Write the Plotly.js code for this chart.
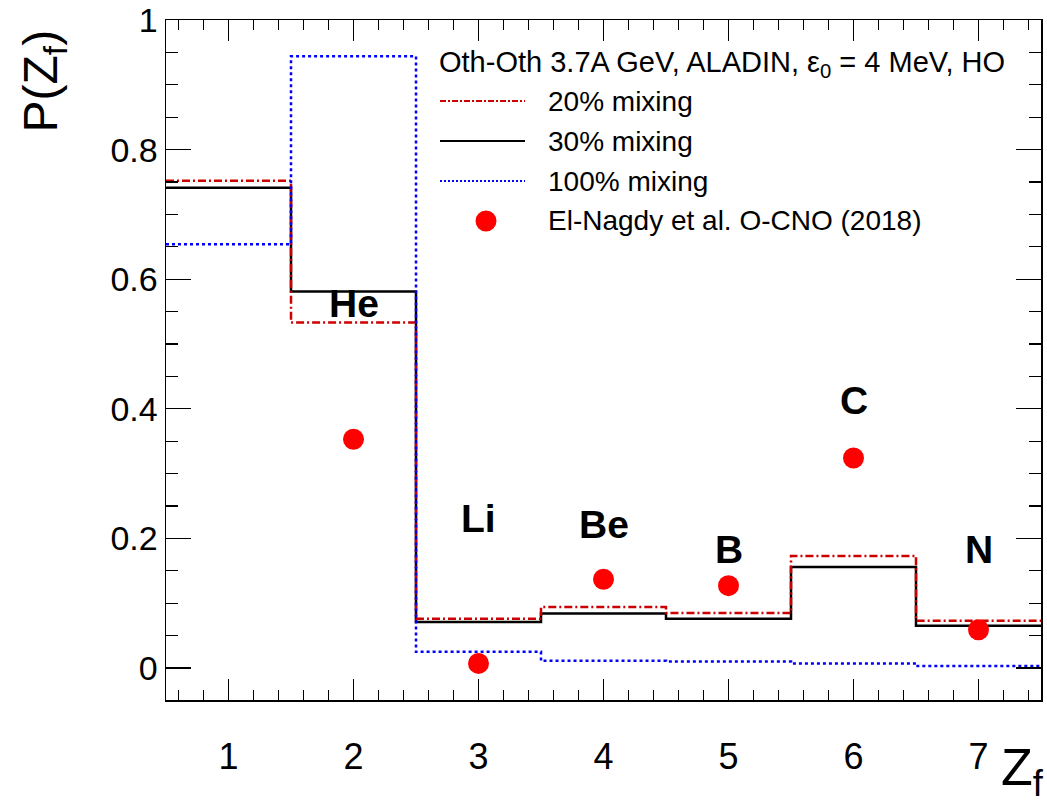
<!DOCTYPE html>
<html>
<head>
<meta charset="utf-8">
<script src="https://cdn.plot.ly/plotly-3.0.1.min.js"></script>
<style>html,body{margin:0;padding:0;background:#fff;}#chart{width:1047px;height:803px;}</style>
</head>
<body>
<div id="chart"></div>
<script>
// ---- data ----
const Z = [1, 2, 3, 4, 5, 6, 7];
const mix20 = [0.752, 0.533, 0.076, 0.094, 0.085, 0.173, 0.073];
const mix30 = [0.741, 0.581, 0.071, 0.084, 0.076, 0.156, 0.065];
const mix100 = [0.654, 0.944, 0.025, 0.011, 0.010, 0.007, 0.003];
const expZ = [2, 3, 4, 5, 6, 7];
const expP = [0.353, 0.007, 0.137, 0.127, 0.324, 0.059];
const elements = ['He', 'Li', 'Be', 'B', 'C', 'N'];
const seriesNames = ['20% mixing', '30% mixing', '100% mixing', 'El-Nagdy et al. O-CNO (2018)'];
const headerText = 'Oth-Oth 3.7A GeV, ALADIN, \u03b5<sub>0</sub> = 4 MeV, HO';

// label placement (layout, not data)
const elementLabelY = [0.563, 0.230, 0.221, 0.183, 0.413, 0.183];

const FONT = 'Liberation Sans, Arial, Helvetica, sans-serif';

function histEdges(centers) {
  const e = centers.map(c => c - 0.5);
  e.push(centers[centers.length - 1] + 0.5);
  return e;
}
function histVals(v) { return v.concat([v[v.length - 1]]); }

const edges = histEdges(Z);

const styles = {
  red: { color: '#cc0000', width: 2.5, dash: '8px,3px,2px,3px' },
  black: { color: '#000000', width: 2.5, dash: 'solid' },
  blue: { color: '#0000ff', width: 2.5, dash: '3px,3px' }
};

const traces = [
  { x: edges, y: histVals(mix30), mode: 'lines', line: Object.assign({ shape: 'hv' }, styles.black), name: seriesNames[1], showlegend: false, hoverinfo: 'skip' },
  { x: edges, y: histVals(mix20), mode: 'lines', line: Object.assign({ shape: 'hv' }, styles.red), name: seriesNames[0], showlegend: false, hoverinfo: 'skip' },
  { x: edges, y: histVals(mix100), mode: 'lines', line: Object.assign({ shape: 'hv' }, styles.blue), name: seriesNames[2], showlegend: false, hoverinfo: 'skip' },
  { x: expZ, y: expP, mode: 'markers', marker: { color: '#ff0000', size: 21, symbol: 'circle' }, name: seriesNames[3], showlegend: false }
];

// ---- custom legend (paper coords) ----
const plotL = 166, plotR = 1041, plotT = 20, plotB = 700;
const px2x = p => (p - plotL) / (plotR - plotL);
const px2y = p => (plotB - p) / (plotB - plotT);

const legendRowsY = [101, 141, 181, 221];
const legLineX0 = 440, legLineX1 = 525, legTextX = 546, legMarkX = 486;
const legStyles = [styles.red, styles.black, styles.blue];

const shapes = [];
for (let i = 0; i < 3; i++) {
  const s = legStyles[i];
  shapes.push({ type: 'line', xref: 'paper', yref: 'paper',
    x0: px2x(legLineX0), x1: px2x(legLineX1), y0: px2y(legendRowsY[i]), y1: px2y(legendRowsY[i]),
    line: { color: s.color, width: 2, dash: i === 0 ? '6px,2px,2px,2px' : (i === 2 ? '2px,2px' : 'solid') } });
}
shapes.push({ type: 'circle', xref: 'paper', yref: 'paper', xsizemode: 'pixel', ysizemode: 'pixel',
  xanchor: px2x(legMarkX), yanchor: px2y(legendRowsY[3]), x0: -10.5, x1: 10.5, y0: -10.5, y1: 10.5,
  fillcolor: '#ff0000', line: { color: '#ff0000', width: 0 } });

const annotations = [
  { xref: 'paper', yref: 'paper', x: px2x(437), y: px2y(64), xanchor: 'left', yanchor: 'middle',
    text: headerText, showarrow: false, font: { family: FONT, size: 29, color: '#000' } }
];
for (let i = 0; i < 4; i++) {
  annotations.push({ xref: 'paper', yref: 'paper', x: px2x(legTextX), y: px2y(legendRowsY[i]), xanchor: 'left', yanchor: 'middle',
    text: seriesNames[i], showarrow: false, font: { family: FONT, size: 28, color: '#000' } });
}
// element labels in data coordinates
for (let i = 0; i < elements.length; i++) {
  annotations.push({ xref: 'x', yref: 'y', x: expZ[i], y: elementLabelY[i], xanchor: 'center', yanchor: 'middle',
    text: '<b>' + elements[i] + '</b>', showarrow: false, font: { family: FONT, size: 39, color: '#000' } });
}
// axis titles at the axis ends (ROOT style)
annotations.push({ xref: 'paper', yref: 'paper', x: px2x(44), y: px2y(28), xanchor: 'center', yanchor: 'top',
  textangle: -90, text: 'P(Z<sub>f</sub>)', showarrow: false, font: { family: FONT, size: 48, color: '#000' } });
annotations.push({ xref: 'paper', yref: 'paper', x: px2x(1046), y: px2y(806), xanchor: 'right', yanchor: 'bottom',
  text: 'Z<sub>f</sub>', showarrow: false, font: { family: FONT, size: 52, color: '#000' } });

const layout = {
  width: 1047, height: 803,
  margin: { l: plotL, r: 1047 - plotR, t: plotT, b: 803 - plotB, pad: 0 },
  paper_bgcolor: '#fff', plot_bgcolor: '#fff',
  showlegend: false,
  xaxis: {
    range: [0.5, 7.5], dtick: 1, tick0: 0, ticks: 'inside', ticklen: 21, tickwidth: 1.2, tickcolor: '#000',
    showline: true, linecolor: '#000', linewidth: 1.5, mirror: 'ticks', showgrid: false, zeroline: false,
    tickfont: { family: FONT, size: 36, color: '#000' }, ticklabelstandoff: 24,
    minor: { dtick: 0.2, ticklen: 10, tickwidth: 1.2, tickcolor: '#000', ticks: 'inside', showgrid: false }
  },
  yaxis: {
    range: [-0.0494, 1.0], dtick: 0.2, tick0: 0, ticks: 'inside', ticklen: 25, tickwidth: 1.2, tickcolor: '#000',
    showline: true, linecolor: '#000', linewidth: 1.5, mirror: 'ticks', showgrid: false, zeroline: false,
    tickfont: { family: FONT, size: 34, color: '#000' }, ticklabelstandoff: 0,
    minor: { dtick: 0.05, ticklen: 12, tickwidth: 1.2, tickcolor: '#000', ticks: 'inside', showgrid: false }
  },
  shapes: shapes,
  annotations: annotations
};

Plotly.newPlot('chart', traces, layout, { displayModeBar: false, staticPlot: true });
</script>
</body>
</html>
